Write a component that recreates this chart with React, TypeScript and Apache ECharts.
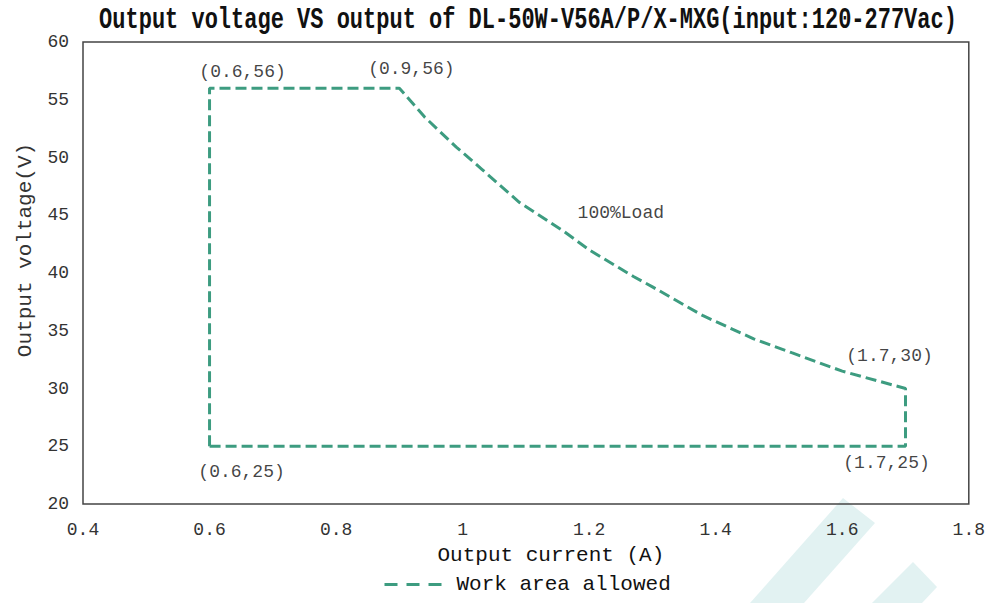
import React, { useEffect, useRef } from "react";
import * as echarts from "echarts";

const titleText = "Output voltage VS output of DL-50W-V56A/P/X-MXG(input:120-277Vac)";
const xAxisName = "Output current (A)";
const yAxisName = "Output voltage(V)";
const seriesName = "Work area allowed";

// Boundary of the allowed working area (current A, voltage V)
const currentValues = [0.6, 0.6, 0.9, 0.94, 0.99, 1.03, 1.09, 1.16, 1.2, 1.27, 1.3, 1.38, 1.46, 1.52, 1.6, 1.7, 1.7, 0.6];
const voltageValues = [25, 56, 56, 53.5, 50.9, 49, 46.1, 43.6, 42, 39.7, 38.8, 36.3, 34.3, 33.1, 31.5, 30, 25, 25];

// Annotations
const noteTexts = ["(0.6,56)", "(0.9,56)", "(1.7,30)", "(1.7,25)", "(0.6,25)", "100%Load"];
const noteX = [0.6, 0.9, 1.7, 1.7, 0.6, 1.25];
const noteY = [56, 56, 30, 25, 25, 45.2];
const noteOffsets = [[33, -16], [12, -19], [-16, -33], [-19, 17], [32, 26], [0, 0]];

const FONT = '"Liberation Mono", monospace';
const LINE_COLOR = "#3d9c80";

export default function App() {
  const ref = useRef<HTMLDivElement>(null);
  useEffect(() => {
    if (!ref.current) return;
    const chart = echarts.init(ref.current, null, { renderer: "svg" });
    const lineData = currentValues.map((x, i) => [x, voltageValues[i]]);
    const noteData = noteTexts.map((t, i) => ({
      value: [noteX[i], noteY[i]],
      name: t,
      label: { offset: noteOffsets[i] },
    }));
    chart.setOption({
      animation: false,
      backgroundColor: "#ffffff",
      textStyle: { fontFamily: FONT },
      graphic: [
        {
          type: "polygon",
          z: -10,
          silent: true,
          shape: { points: [[843, 498], [875, 523], [804, 603], [750, 603]] },
          style: { fill: "#e2f2f2" },
        },
        {
          type: "polygon",
          z: -10,
          silent: true,
          shape: { points: [[913, 562], [937, 587], [922, 603], [872, 603]] },
          style: { fill: "#e2f2f2" },
        },
        {
          type: "text",
          x: 528,
          y: 20,
          scaleY: 1.35,
          style: {
            text: titleText,
            font: 'bold 22px "Liberation Mono", monospace',
            fill: "#111111",
            textAlign: "center",
            textVerticalAlign: "middle",
          },
        },
      ],
      grid: {
        left: 83,
        right: 19,
        top: 42,
        bottom: 99,
        show: true,
        borderColor: "#444444",
        borderWidth: 1.5,
        backgroundColor: "transparent",
      },
      legend: {
        data: [seriesName],
        left: 383,
        top: 574,
        padding: 0,
        itemWidth: 57,
        itemHeight: 14,
        itemStyle: { opacity: 0, borderWidth: 0 },
        lineStyle: { type: [13, 9], width: 3, color: LINE_COLOR },
        textStyle: { fontFamily: FONT, fontSize: 21, color: "#111111", padding: [0, 0, 0, 10] },
      },
      xAxis: {
        type: "value",
        min: 0.4,
        max: 1.8,
        interval: 0.2,
        name: xAxisName,
        nameLocation: "middle",
        nameGap: 41,
        nameTextStyle: { fontFamily: FONT, fontSize: 21, color: "#111111", padding: [0, 0, 0, 50], verticalAlign: "top" },
        axisLine: { show: false },
        axisTick: { show: false },
        splitLine: { show: false },
        axisLabel: {
          fontFamily: FONT,
          fontSize: 18,
          color: "#333333",
          margin: 17,
          formatter: (v: number) => String(Math.round(v * 10) / 10),
        },
      },
      yAxis: {
        type: "value",
        min: 20,
        max: 60,
        interval: 5,
        name: yAxisName,
        nameLocation: "middle",
        nameGap: 45,
        nameTextStyle: { fontFamily: FONT, fontSize: 21, color: "#333333", padding: [0, 0, 0, 46] },
        axisLine: { show: false },
        axisTick: { show: false },
        splitLine: { show: false },
        axisLabel: { fontFamily: FONT, fontSize: 18, color: "#333333", margin: 14 },
      },
      series: [
        {
          name: seriesName,
          type: "line",
          data: lineData,
          symbol: "none",
          lineStyle: { color: LINE_COLOR, width: 3, type: [11, 5] },
          itemStyle: { color: LINE_COLOR },
          z: 3,
        },
        {
          name: "notes",
          type: "scatter",
          data: noteData,
          symbolSize: 0,
          silent: true,
          label: {
            show: true,
            position: "inside",
            formatter: (p: any) => p.name,
            fontFamily: FONT,
            fontSize: 18,
            color: "#111111",
            align: "center",
            verticalAlign: "middle",
          },
        },
      ],
    });
    return () => chart.dispose();
  }, []);
  return <div ref={ref} style={{ width: 988, height: 603, position: "fixed", left: 0, top: 0 }} />;
}
